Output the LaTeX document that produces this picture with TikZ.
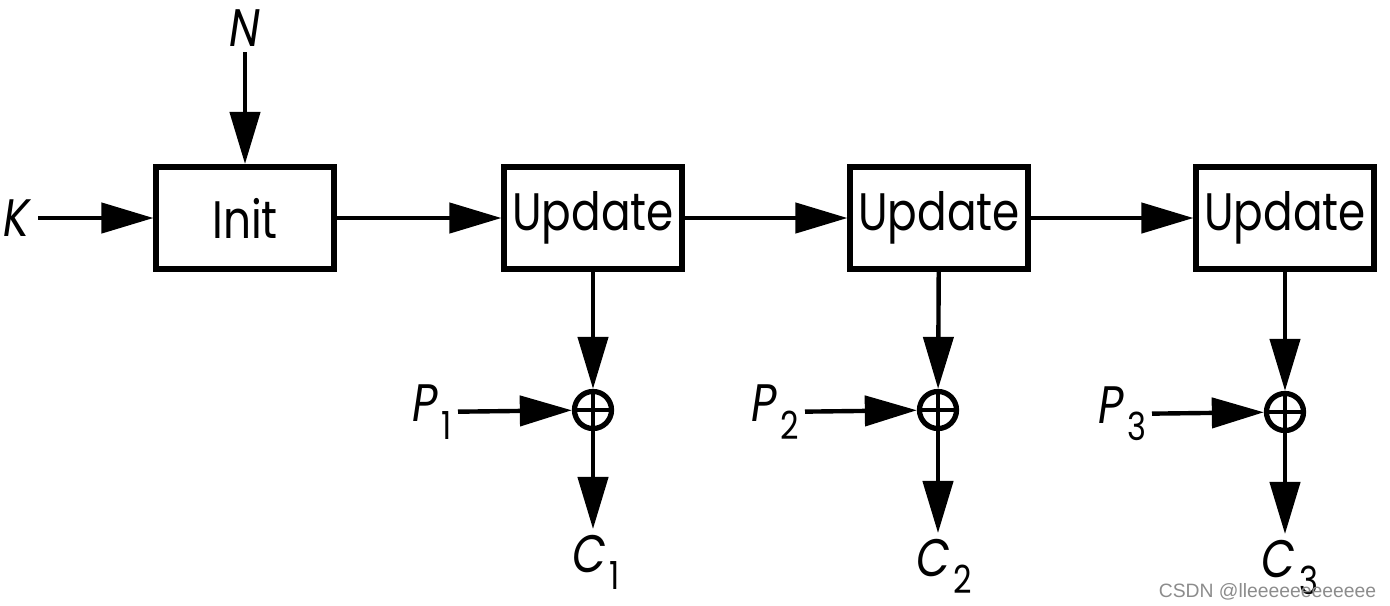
\documentclass[tikz,border=0pt]{standalone}
\usepackage{fontspec}
\setmainfont{Poppins}[FakeStretch=0.83]
\newfontfamily\wmfont{Liberation Sans}
\usetikzlibrary{arrows.meta,positioning}
\newcommand\sublbl[2]{\textit{#1}\kern1pt\raisebox{-0.6ex}{\fontsize{11}{13}\selectfont #2}}
\tikzset{
  blk/.style={draw,line width=1.7pt,minimum width=1.77cm,minimum height=1.02cm,inner sep=0pt,font=\fontsize{15}{18}\selectfont},
  xorop/.style={circle,draw,line width=1.5pt,minimum size=0.37cm,inner sep=0pt,
    path picture={\draw[line width=1.3pt] (path picture bounding box.north) -- (path picture bounding box.south)
      (path picture bounding box.west) -- (path picture bounding box.east);}},
  flow/.style={-{Triangle[length=0.52cm,width=0.3cm]},line width=1.25pt},
  lbl/.style={font=\fontsize{15}{18}\selectfont,inner sep=1.5pt},
  wmark/.style={font=\wmfont\fontsize{5.5}{6.5}\selectfont,text=black!45,inner sep=0pt}
}
\begin{document}
\begin{tikzpicture}[x=0.01cm,y=-0.01cm]
\useasboundingbox (0,0) rectangle (1390,605);
% blocks
\node[blk] (init) at (245,218) {Init};
\node[blk] (up1) at (593,218) {Update};
\node[blk] (up2) at (939,218) {Update};
\node[blk] (up3) at (1285,218) {Update};
% inputs
\node[lbl] (n) at (245,28) {\textit{N}};
\node[lbl] (k) at (18,218) {\textit{K}};
\draw[flow] (n) -- (init);
\draw[flow] (k) -- (init);
\draw[flow] (init) -- (up1);
\draw[flow] (up1) -- (up2);
\draw[flow] (up2) -- (up3);
% xor stages
\node[xorop] (x1) at (593,410) {};
\node[xorop] (x2) at (938,410) {};
\node[xorop] (x3) at (1285,412) {};
\node[lbl,anchor=east] (p1) at (458,412) {\sublbl{P}{1}};
\node[lbl,anchor=east] (p2) at (805,412) {\sublbl{P}{2}};
\node[lbl,anchor=east] (p3) at (1152,414) {\sublbl{P}{3}};
\node[lbl,anchor=north] (c1) at (596,529) {\sublbl{C}{1}};
\node[lbl,anchor=north] (c2) at (944,533) {\sublbl{C}{2}};
\node[lbl,anchor=north] (c3) at (1290,534) {\sublbl{C}{3}};
\draw[flow] (up1) -- (x1);
\draw[flow] (up2) -- (x2);
\draw[flow] (up3) -- (x3);
\draw[flow] (p1) -- (x1);
\draw[flow] (p2) -- (x2);
\draw[flow] (p3) -- (x3);
\draw[flow] (x1) -- (x1 |- c1.north);
\draw[flow] (x2) -- (x2 |- c2.north);
\draw[flow] (x3) -- (x3 |- c3.north);
\node[wmark,anchor=base east] (wm) at (1377,597) {CSDN @lleeeeeeeeeeee};
\end{tikzpicture}
\end{document}
